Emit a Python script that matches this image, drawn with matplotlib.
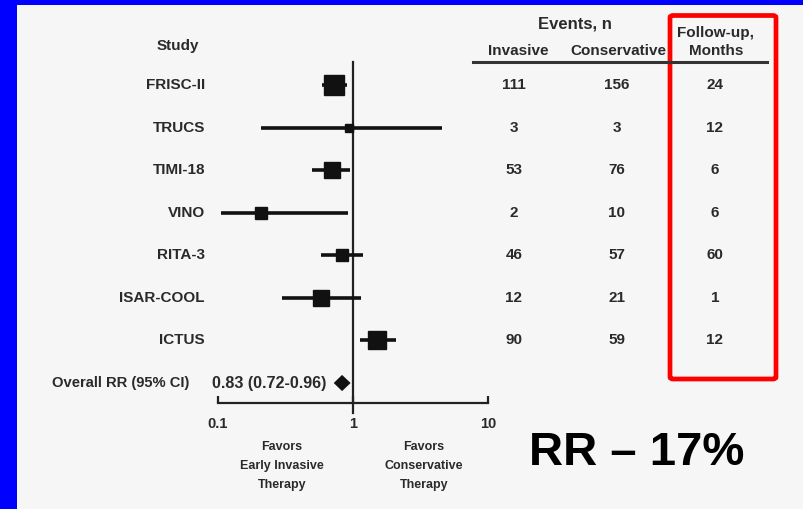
import numpy as np
import matplotlib
matplotlib.use("Agg")
import matplotlib.pyplot as plt
import matplotlib.patches as mpatches
import matplotlib.transforms as mtransforms

# study data
studies = ["FRISC-II", "TRUCS", "TIMI-18", "VINO", "RITA-3", "ISAR-COOL", "ICTUS"]
rr = [0.72, 0.93, 0.70, 0.21, 0.83, 0.58, 1.51]
ci_low = [0.59, 0.21, 0.50, 0.105, 0.58, 0.30, 1.13]
ci_high = [0.90, 4.6, 0.95, 0.92, 1.19, 1.15, 2.09]
weight = [20, 3, 13, 7, 7, 14, 16]
invasive = [111, 3, 53, 2, 46, 12, 90]
conservative = [156, 3, 76, 10, 57, 21, 59]
followup = [24, 12, 6, 6, 60, 1, 12]
overall_rr = 0.83
overall_ci = (0.72, 0.96)

W, H = 804, 509
fig = plt.figure(figsize=(W / 100, H / 100), dpi=100)
fig.patch.set_facecolor("#0000ff")
plt.rcParams["font.family"] = ["Liberation Sans", "DejaVu Sans"]

# white panel inside the blue frame
fig.add_artist(mpatches.Rectangle((17 / W, 0), 1, 1 - 5 / H, transform=fig.transFigure,
                                  facecolor="#f6f6f6", edgecolor="none", zorder=0))

def fx(px):
    return px / W

def fy(py):
    return 1 - py / H

# forest axes: 0.1 -> 218px, 10 -> 488px; rows 85px .. 383px
row_h = (383 - 85) / 7
y_top, y_bot = 62, 403
ax = fig.add_axes([fx(218), fy(y_bot), fx(488) - fx(218), (y_bot - y_top) / H])
ax.set_facecolor("none")
ax.set_xscale("log")
ax.set_xlim(0.1, 10)
ax.set_ylim(7 + (y_bot - 383) / row_h, -(85 - y_top) / row_h)
for s in ["top", "left", "right"]:
    ax.spines[s].set_visible(False)
ax.spines["bottom"].set_linewidth(1.6)
ax.spines["bottom"].set_color("#222222")
ax.set_yticks([])
ax.set_xticks([0.1, 1, 10])
ax.set_xticklabels(["0.1", "1", "10"], fontsize=10.5, fontweight="bold", color="#2a2a2a")
ax.xaxis.set_minor_locator(matplotlib.ticker.NullLocator())
ax.tick_params(axis="x", direction="in", length=5, width=1.6, color="#222222", pad=10)

ax.axvline(1, ymin=-0.03, ymax=1, color="#222222", lw=1.6, clip_on=False)

ys = np.arange(len(studies))
for i in range(len(studies)):
    ax.plot([ci_low[i], ci_high[i]], [ys[i], ys[i]], color="#111111", lw=2.6, solid_capstyle="butt")
    side = 4.5 * np.sqrt(weight[i]) * 0.72
    ax.plot(rr[i], ys[i], marker="s", ms=side, color="#111111", mec="#111111")

# overall diamond
yo = len(studies)
dh = 0.19
ax.fill([overall_ci[0], overall_rr, overall_ci[1], overall_rr],
        [yo, yo - dh, yo, yo + dh], color="#111111", lw=0)

txt = dict(color="#2a2a2a", fontsize=11, fontweight="bold")
blend = mtransforms.blended_transform_factory(fig.transFigure, ax.transData)
for i, name in enumerate(studies):
    ax.text(fx(205), ys[i], name, transform=blend, ha="right", va="center", **txt)
    ax.text(fx(514), ys[i], str(invasive[i]), transform=blend, ha="center", va="center", **txt)
    ax.text(fx(617), ys[i], str(conservative[i]), transform=blend, ha="center", va="center", **txt)
    ax.text(fx(715), ys[i], str(followup[i]), transform=blend, ha="center", va="center", **txt)

ax.text(fx(52), yo, "Overall RR (95% CI)", transform=blend, ha="left", va="center",
        color="#2a2a2a", fontsize=10.6, fontweight="bold")
ax.text(fx(212), yo, "%.2f (%.2f-%.2f)" % (overall_rr, overall_ci[0], overall_ci[1]),
        transform=blend, ha="left", va="center", color="#2a2a2a", fontsize=11.6,
        fontweight="bold")

# headers
fig.text(fx(178), fy(46), "Study", ha="center", va="center", **txt)
fig.text(fx(575), fy(24), "Events, n", ha="center", va="center", color="#2a2a2a",
         fontsize=12, fontweight="bold")
fig.text(fx(518), fy(51), "Invasive", ha="center", va="center", **txt)
fig.text(fx(618), fy(51), "Conservative", ha="center", va="center", **txt)
fig.text(fx(716), fy(33), "Follow-up,", ha="center", va="center", **txt)
fig.text(fx(716), fy(51), "Months", ha="center", va="center", **txt)
fig.add_artist(plt.Line2D([fx(473), fx(767)], [fy(62), fy(62)], transform=fig.transFigure,
                          color="#333333", lw=2.2))

# favors labels
fav = dict(color="#2a2a2a", fontsize=9, fontweight="bold", ha="center", va="center",
           linespacing=1.75)
fig.text(fx(282), fy(466), "Favors\nEarly Invasive\nTherapy", **fav)
fig.text(fx(424), fy(466), "Favors\nConservative\nTherapy", **fav)

# highlight box and summary
fig.add_artist(mpatches.FancyBboxPatch((fx(670), fy(379)), fx(776) - fx(670), fy(15.5) - fy(379),
                                       boxstyle="round,pad=0,rounding_size=0.004",
                                       transform=fig.transFigure, facecolor="none",
                                       edgecolor="#ff0000", lw=3.4))
fig.text(fx(637), fy(453), "RR \u2013 17%", ha="center", va="center", fontsize=34,
         fontweight="bold", color="#000000")

fig.savefig("out.png", dpi=100, facecolor=fig.get_facecolor())
